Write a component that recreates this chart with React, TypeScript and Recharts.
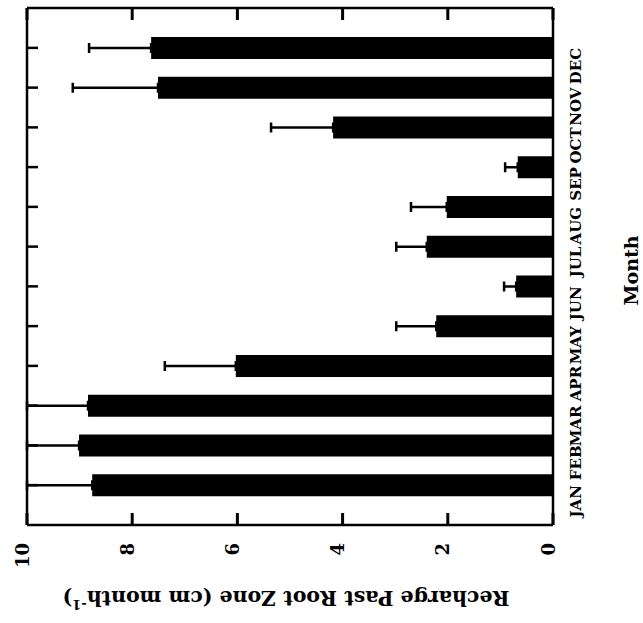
import { BarChart, Bar, XAxis, YAxis, ErrorBar } from 'recharts'

const months = ['JAN', 'FEB', 'MAR', 'APR', 'MAY', 'JUN', 'JUL', 'AUG', 'SEP', 'OCT', 'NOV', 'DEC']
const recharge = [8.76, 9.01, 8.84, 6.03, 2.22, 0.7, 2.4, 2.02, 0.67, 4.18, 7.51, 7.64]
// upper error only; JAN-MAR run into the frame at 10
const rechargeErr = [1.24, 0.99, 1.16, 1.35, 0.76, 0.23, 0.58, 0.68, 0.24, 1.18, 1.62, 1.18]
const valueTicks = [0, 2, 4, 6, 8, 10]

const data = months.map((m, i) => ({ month: m, recharge: recharge[i], err: [0, rechargeErr[i]] }))

const FONT = '"DejaVu Serif", serif'
const INK = '#000'
const TICK_LEN = 12
const MARGIN = { top: 7, right: 0, bottom: 0, left: 26 }
const TOP_AXIS_H = 1
// the unused top axis gets no ticks of its own, so its marks are drawn from the bottom one
const PLOT_TOP = MARGIN.top + TOP_AXIS_H

/** The figure is printed sideways, so every label is turned with it.
 *  Value ticks point into the plot on both frame edges. */
function ValueTick({ x, y, payload }: any) {
  const cx = x - 5
  const ty = y + 18
  return (
    <g>
      <line x1={x} y1={y - TICK_LEN} x2={x} y2={y} stroke={INK} strokeWidth={3} />
      <line x1={x} y1={PLOT_TOP} x2={x} y2={PLOT_TOP + TICK_LEN} stroke={INK} strokeWidth={3} />
      <text
        x={cx}
        y={ty}
        transform={`rotate(-90 ${cx} ${ty})`}
        textAnchor="end"
        dominantBaseline="central"
        fontFamily={FONT}
        fontWeight="bold"
        fontSize={18}
        fill={INK}
      >
        {payload.value}
      </text>
    </g>
  )
}

function MonthTick({ x, y, payload }: any) {
  return (
    <text
      x={x}
      y={y}
      transform={`rotate(-90 ${x} ${y})`}
      textAnchor="end"
      dominantBaseline="central"
      fontFamily={FONT}
      fontWeight="bold"
      fontSize={15}
      fill={INK}
    >
      {payload.value}
    </text>
  )
}

const NoLabel = () => <g />

function ValueTitle({ viewBox }: any) {
  const cx = viewBox ? viewBox.x + viewBox.width / 2 - 4 : 286
  const cy = viewBox ? viewBox.y + 73 : 598
  return (
    <text
      x={cx}
      y={cy}
      transform={`rotate(180 ${cx} ${cy})`}
      textAnchor="middle"
      dominantBaseline="central"
      fontFamily={FONT}
      fontWeight="bold"
      fontSize={20.5}
      fill={INK}
    >
      Recharge Past Root Zone (cm month
      <tspan dy={-7} fontSize={13}>-1</tspan>
      <tspan dy={7}>)</tspan>
    </text>
  )
}

function MonthTitle({ viewBox }: any) {
  const cx = viewBox ? viewBox.x + 78 : 631
  const cy = viewBox ? viewBox.y + viewBox.height / 2 + 4 : 270
  return (
    <text
      x={cx}
      y={cy}
      transform={`rotate(-90 ${cx} ${cy})`}
      textAnchor="middle"
      dominantBaseline="central"
      fontFamily={FONT}
      fontWeight="bold"
      fontSize={19}
      fill={INK}
    >
      Month
    </text>
  )
}

const axisLine = { stroke: INK, strokeWidth: 2.5 }
const tickLine = { stroke: INK, strokeWidth: 2.5 }

export default function App() {
  return (
    <div style={{ position: 'absolute', left: 0, top: 0, background: '#fff' }}>
      <BarChart width={643} height={623} data={data} layout="vertical" margin={MARGIN}>
        <XAxis
          xAxisId="bottom"
          type="number"
          domain={[0, 10]}
          ticks={valueTicks}
          reversed
          height={98}
          axisLine={axisLine}
          tickLine={false}
          tickSize={0}
          tickMargin={0}
          interval={0}
          tick={<ValueTick />}
          label={{ content: <ValueTitle /> }}
        />
        <XAxis
          xAxisId="top"
          orientation="top"
          type="number"
          domain={[0, 10]}
          reversed
          height={TOP_AXIS_H}
          axisLine={axisLine}
          tickLine={false}
          tick={false}
        />
        <YAxis
          yAxisId="left"
          orientation="left"
          type="category"
          dataKey="month"
          reversed
          width={1}
          padding={{ top: 20, bottom: 20 }}
          interval={0}
          axisLine={axisLine}
          tickLine={tickLine}
          tickSize={-11}
          tick={<NoLabel />}
        />
        <YAxis
          yAxisId="right"
          orientation="right"
          type="category"
          dataKey="month"
          reversed
          width={90}
          padding={{ top: 20, bottom: 20 }}
          axisLine={axisLine}
          tickLine={false}
          tickSize={0}
          tickMargin={23}
          interval={0}
          tick={<MonthTick />}
          label={{ content: <MonthTitle /> }}
        />
        <Bar
          dataKey="recharge"
          xAxisId="bottom"
          yAxisId="right"
          fill={INK}
          barSize={22}
          isAnimationActive={false}
        >
          <ErrorBar dataKey="err" direction="x" width={5} stroke={INK} strokeWidth={2.5} />
        </Bar>
      </BarChart>
    </div>
  )
}
